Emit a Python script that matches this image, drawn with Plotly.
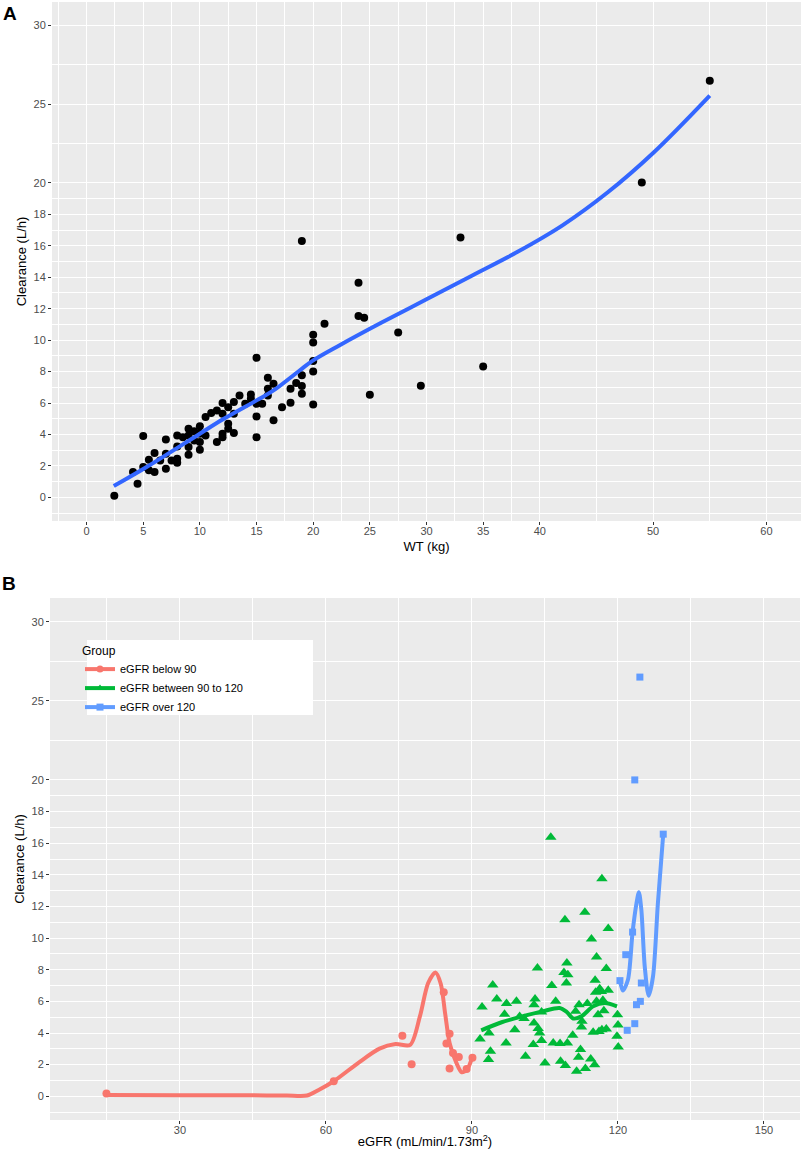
import plotly.graph_objects as go

# ---- panel A: clearance against body weight ----
wt_kg = [2.45, 4.1, 4.5, 5.0, 5.0, 5.5, 5.5, 6.0, 6.0, 6.5, 7.0, 7.0, 7.0, 7.5,
         8.0, 8.0, 8.0, 8.0, 8.5, 9.0, 9.0, 9.0, 9.0, 9.5, 9.5, 10.0, 10.0, 10.0,
         10.0, 10.5, 10.5, 11.0, 11.5, 11.5, 12.0, 12.0, 12.0, 12.0, 12.5, 12.5,
         12.5, 13.0, 13.0, 13.0, 13.5, 14.0, 14.5, 14.5, 15.0, 15.0, 15.0, 15.0,
         15.5, 16.0, 16.0, 16.0, 16.5, 16.5, 17.25, 18.0, 18.0, 18.5, 19.0, 19.0,
         19.0, 19.0, 20.0, 20.0, 20.0, 20.0, 20.0, 21.0, 24.0, 24.0, 24.5, 25.0,
         27.5, 29.5, 33.0, 35.0, 49.0, 55.0]
cl_wt = [0.11, 1.61, 0.87, 3.9, 1.93, 2.4, 1.72, 2.82, 1.61, 2.35, 3.69, 2.78,
         1.82, 2.35, 3.94, 3.24, 2.46, 2.21, 3.83, 4.37, 3.94, 3.2, 2.71, 4.21,
         3.62, 4.53, 4.05, 3.52, 3.03, 5.11, 3.94, 5.36, 5.53, 3.52, 6.0, 5.32,
         4.05, 3.83, 5.74, 4.68, 4.37, 6.06, 5.32, 4.09, 6.48, 5.95, 6.55, 6.27,
         8.88, 5.95, 5.15, 3.83, 5.95, 7.61, 6.91, 6.48, 7.23, 4.9, 5.74, 6.91,
         6.02, 7.27, 16.3, 7.76, 7.08, 6.59, 10.34, 9.85, 8.67, 8.01, 5.9, 11.04,
         13.65, 11.53, 11.42, 6.53, 10.49, 7.1, 16.53, 8.33, 20.03, 26.49]

# loess curve
wt_fit = [2.4, 5.3, 10, 12, 15, 16.5, 18.8, 20, 22.3, 26, 30, 34, 38, 42, 46, 50, 55]
cl_wt_fit = [0.72, 1.93, 4.05, 4.95, 6.17, 6.8, 8.07, 8.71, 9.66, 11.1, 12.6,
             14.1, 15.6, 17.3, 19.4, 21.9, 25.55]

# ---- panel B: clearance against eGFR, by group ----
egfr_low = [14.9, 61.6, 75.7, 77.6, 84.2, 85.4, 84.75, 85.4, 86.1, 87.3, 88.9, 90.1]
cl_low = [0.17, 0.95, 3.83, 2.02, 6.57, 3.96, 3.33, 1.75, 2.74, 2.49, 1.73, 2.43]

egfr_mid = [92.07, 91.66, 93.5, 93.8, 93.4, 94.27, 95.1, 97.1, 96.7, 97.0, 99.14,
            99.8, 98.8, 101.0, 100.7, 102.96, 102.75, 102.75, 103.45, 103.6,
            103.9, 104.3, 102.6, 104.3, 105.0, 106.4, 107.2, 106.7, 108.1, 108.2,
            109.2, 109.6, 109.4, 108.9, 109.7, 109.5, 110.7, 111.5, 111.3, 112.0,
            112.5, 112.3, 111.9, 112.6, 113.3, 113.7, 114.4, 115.2, 114.9, 115.6,
            115.3, 115.4, 115.6, 116.25, 115.9, 116.9, 116.6, 117.6, 118.0, 117.1,
            116.7, 117.6, 116.1, 119.9, 120.0, 119.8, 120.05, 106.2, 116.7, 113.2,
            109.1, 118.0, 114.55]
cl_mid = [5.65, 3.62, 4.0, 2.84, 2.32, 7.04, 6.15, 5.86, 5.18, 3.37, 6.0, 5.05,
          4.21, 2.53, 4.91, 6.15, 5.79, 4.63, 8.11, 4.28, 4.0, 5.33, 3.27, 3.52,
          2.11, 7.01, 6.0, 3.37, 3.33, 2.21, 1.94, 3.37, 7.16, 7.83, 7.69, 8.43,
          3.85, 1.58, 5.37, 5.79, 4.38, 2.95, 2.46, 4.74, 1.75, 5.86, 2.36, 2.0,
          4.04, 8.8, 7.33, 6.57, 6.0, 6.8, 5.16, 6.07, 6.63, 8.07, 6.7, 5.41, 4.21,
          4.26, 4.1, 5.16, 4.51, 3.79, 3.12, 16.38, 13.75, 11.63, 11.16, 10.61,
          9.94]

egfr_high = [124.5, 123.45, 129.3, 123.0, 121.6, 120.4, 124.8, 124.6, 123.8, 123.45, 121.9]
cl_high = [26.5, 20.0, 16.57, 10.38, 8.95, 7.31, 7.16, 6.0, 5.79, 4.59, 4.17]

egfr_low_fit = [14.9, 30, 45, 52, 56.1, 58.5, 61.6, 66.6, 71.0, 74.3, 77.3, 79.3,
                81.0, 82.5, 83.6, 84.5, 85.4, 86.8, 87.9, 89.0, 90.0]
cl_low_fit = [0.08, 0.07, 0.06, 0.05, 0.05, 0.4, 0.95, 2.1, 3.01, 3.3, 3.25, 5.05,
              7.16, 7.83, 7.1, 5.2, 3.37, 2.11, 1.52, 1.69, 2.43]
egfr_mid_fit = [91.9, 96.1, 100.3, 104.5, 108.0, 109.4, 110.8, 112.5, 114.9, 117.3, 119.8]
cl_mid_fit = [4.17, 4.68, 5.05, 5.37, 5.58, 5.35, 4.92, 5.05, 5.69, 5.9, 5.69]
egfr_high_fit = [120.4, 121.0, 122.05, 123.0, 123.8, 124.3, 124.8, 125.5, 126.3,
                 127.2, 128.2, 129.3]
cl_high_fit = [7.31, 6.68, 7.37, 10.38, 12.2, 12.9, 11.8, 8.2, 6.36, 7.58, 12.2, 16.57]

group_names = ["eGFR below 90", "eGFR between 90 to 120", "eGFR over 120"]
group_colors = ["#F8766D", "#00BA38", "#619CFF"]
group_symbols = ["circle", "triangle-up", "square"]

W, H = 803, 1149
FONT = "Liberation Sans, Arial, sans-serif"


def fx(p):
    return p / W


def fy(p):
    return 1 - p / H


fig = go.Figure()

fig.add_trace(go.Scatter(x=wt_kg, y=cl_wt, mode="markers", showlegend=False,
                         marker=dict(color="black", size=8),
                         xaxis="x", yaxis="y"))
fig.add_trace(go.Scatter(x=wt_fit, y=cl_wt_fit, mode="lines", showlegend=False,
                         line=dict(color="#3366FF", width=4, shape="spline"),
                         xaxis="x", yaxis="y"))

groups = [
    (egfr_low, cl_low, egfr_low_fit, cl_low_fit, 8),
    (egfr_mid, cl_mid, egfr_mid_fit, cl_mid_fit, 10),
    (egfr_high, cl_high, egfr_high_fit, cl_high_fit, 7),
]
for i, (gx, gy, fxs, fys, msize) in enumerate(groups):
    col = group_colors[i]
    fig.add_trace(go.Scatter(x=gx, y=gy, mode="markers", showlegend=False,
                             marker=dict(color=col, size=msize, symbol=group_symbols[i]),
                             xaxis="x2", yaxis="y2"))
    fig.add_trace(go.Scatter(x=fxs, y=fys, mode="lines", showlegend=False,
                             line=dict(color=col, width=4, shape="spline", smoothing=0.8),
                             xaxis="x2", yaxis="y2"))
    # legend key only: line with the group's marker on top
    fig.add_trace(go.Scatter(x=[None], y=[None], mode="lines+markers", name=group_names[i],
                             line=dict(color=col, width=4),
                             marker=dict(color=col, size=7, symbol=group_symbols[i]),
                             xaxis="x2", yaxis="y2"))

y_major = [0, 2, 4, 6, 8, 10, 12, 14, 16, 18, 20, 25, 30]
y_minor = [-1, 1, 3, 5, 7, 9, 11, 13, 15, 17, 19, 22.5, 27.5]
wt_major = [0, 5, 10, 15, 20, 25, 30, 35, 40, 50, 60]
wt_minor = [-2.5, 2.5, 7.5, 12.5, 17.5, 22.5, 27.5, 32.5, 37.5, 45, 55]
egfr_major = [30, 60, 90, 120, 150]
egfr_minor = [15, 45, 75, 105, 135]

common = dict(
    showgrid=True, gridcolor="white", gridwidth=1.2, zeroline=False,
    showline=False, ticks="outside", ticklen=3, tickwidth=1, tickcolor="#333333",
    tickfont=dict(size=11, color="#4D4D4D", family=FONT), automargin=False,
    title_font=dict(size=13, color="black", family=FONT),
)


def minor(vals):
    return dict(tickvals=vals, showgrid=True, gridcolor="white", gridwidth=0.6, ticks="")


fig.update_layout(
    width=W, height=H,
    margin=dict(l=0, r=0, t=0, b=0),
    paper_bgcolor="white", plot_bgcolor="#EBEBEB",
    font=dict(family=FONT, color="black"),
    xaxis=dict(common, domain=[fx(52), fx(801)], anchor="y", range=[-3.05, 63.05],
               tickvals=wt_major, minor=minor(wt_minor), ticklabelstandoff=-3,
               title=dict(text="WT (kg)", standoff=5)),
    yaxis=dict(common, domain=[fy(521), fy(2)], anchor="x", range=[-1.5, 31.5],
               tickvals=y_major, minor=minor(y_minor),
               title=dict(text="Clearance (L/h)", standoff=3)),
    xaxis2=dict(common, domain=[fx(50), fx(800)], anchor="y2", range=[3.3, 157.4],
                tickvals=egfr_major, minor=minor(egfr_minor), ticklabelstandoff=-3,
                title=dict(text="eGFR (mL/min/1.73m<sup>2</sup>)", standoff=6)),
    yaxis2=dict(common, domain=[fy(1120), fy(598)], anchor="x2", range=[-1.5, 31.5],
                tickvals=y_major, minor=minor(y_minor),
                title=dict(text="Clearance (L/h)", standoff=3)),
    legend=dict(
        x=fx(80), y=fy(639), xanchor="left", yanchor="top",
        bgcolor="rgba(0,0,0,0)", borderwidth=0, tracegroupgap=0,
        title=dict(text="Group", font=dict(size=12, color="black")),
        font=dict(size=11, color="black"), itemwidth=30,
    ),
    shapes=[dict(type="rect", xref="paper", yref="paper", layer="above",
                 x0=fx(87), x1=fx(313), y0=fy(715), y1=fy(640),
                 fillcolor="white", line=dict(width=0))],
    annotations=[
        dict(text="<b>A</b>", xref="paper", yref="paper", x=fx(1), y=fy(14),
             xanchor="left", yanchor="middle", showarrow=False, font=dict(size=19)),
        dict(text="<b>B</b>", xref="paper", yref="paper", x=fx(0), y=fy(583),
             xanchor="left", yanchor="middle", showarrow=False, font=dict(size=19)),
    ],
)

# the page's default 8px body margin would push the figure off its 803x1149 frame
fig.write_html("out.html", config={"displayModeBar": False},
               post_script="document.body.style.margin='0px';")
